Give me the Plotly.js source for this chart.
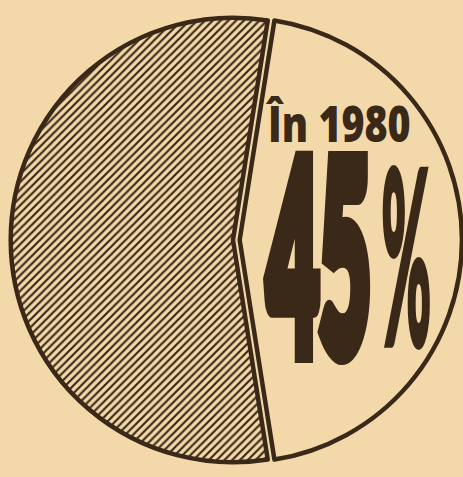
<!DOCTYPE html>
<html>
<head>
<meta charset="utf-8">
<script src="https://cdn.plot.ly/plotly-3.0.1.min.js"></script>
<style>
  html, body { margin: 0; padding: 0; background: #f3d9a9; }
  #chart { width: 463px; height: 477px; }
</style>
</head>
<body>
<div id="chart"></div>
<script>
// ---- data ----
const sliceLabels = ['În 1980', 'Rest'];
const sliceValues = [45, 55];
const yearLabel = 'În 1980';
const shareLabel = '45';
const percentSign = '%';

// ---- style ----
const ink = '#3a2818';
const paper = '#f3d9a9';

const W = 463, H = 477;
const M = {l: 4, r: 1, t: 0, b: 0};
const pw = W - M.l - M.r, ph = H - M.t - M.b;
const px = x => (x - M.l) / pw;
const py = y => 1 - (y - M.t) / ph;

const total = sliceValues.reduce((a, b) => a + b, 0);
const rotation = 90 - 360 * sliceValues[0] / total / 2;

const trace = {
  type: 'pie',
  labels: sliceLabels,
  values: sliceValues,
  sort: false,
  direction: 'clockwise',
  rotation: rotation,
  pull: [0.03, 0],
  textinfo: 'none',
  hoverinfo: 'label+percent',
  showlegend: false,
  domain: {x: [0, 1], y: [py(240) - 0.48, py(240) + 0.48]},
  marker: {
    colors: [paper, paper],
    line: {color: ink, width: 4.5},
    pattern: {
      shape: ['', '/'],
      size: 5.5,
      solidity: 0.4,
      fgcolor: ink,
      bgcolor: paper,
      fillmode: 'replace'
    }
  }
};

const layout = {
  width: W, height: H,
  margin: M,
  paper_bgcolor: paper,
  plot_bgcolor: paper,
  showlegend: false,
  annotations: [
    {text: yearLabel, xref: 'paper', yref: 'paper', x: px(338), y: py(123),
     xanchor: 'center', yanchor: 'middle', showarrow: false,
     font: {family: 'Open Sans, DejaVu Sans, sans-serif', size: 49, weight: 800, color: ink}},
    {text: shareLabel, xref: 'paper', yref: 'paper', x: px(318.5), y: py(250),
     xanchor: 'center', yanchor: 'middle', showarrow: false,
     font: {family: 'Lato, DejaVu Sans, sans-serif', size: 262, weight: 900, color: ink}},
    {text: percentSign, xref: 'paper', yref: 'paper', x: px(406), y: py(252),
     xanchor: 'center', yanchor: 'middle', showarrow: false,
     font: {family: 'Lato, DejaVu Sans, sans-serif', size: 240, weight: 900, color: ink}}
  ]
};

// target rendered widths (px) and stroke thickening per annotation
const fit = [
  {w: 145, stroke: 0},
  {w: 104, stroke: 22},
  {w: 50, stroke: 6}
];

Plotly.newPlot('chart', [trace], layout, {displayModeBar: false, staticPlot: true}).then(() => {
  const anns = document.querySelectorAll('.annotation');
  anns.forEach((g, i) => {
    const t = g.querySelector('text.annotation-text');
    if (!t || !fit[i]) return;
    const bb = t.getBBox();
    const s = fit[i].w / bb.width;
    t.style.transformBox = 'fill-box';
    t.style.transformOrigin = 'center';
    t.style.transform = 'scaleX(' + s + ')';
    if (fit[i].stroke) {
      t.style.stroke = ink;
      t.style.strokeWidth = fit[i].stroke + 'px';
      t.style.strokeLinejoin = 'miter';
    }
  });
});
</script>
</body>
</html>
